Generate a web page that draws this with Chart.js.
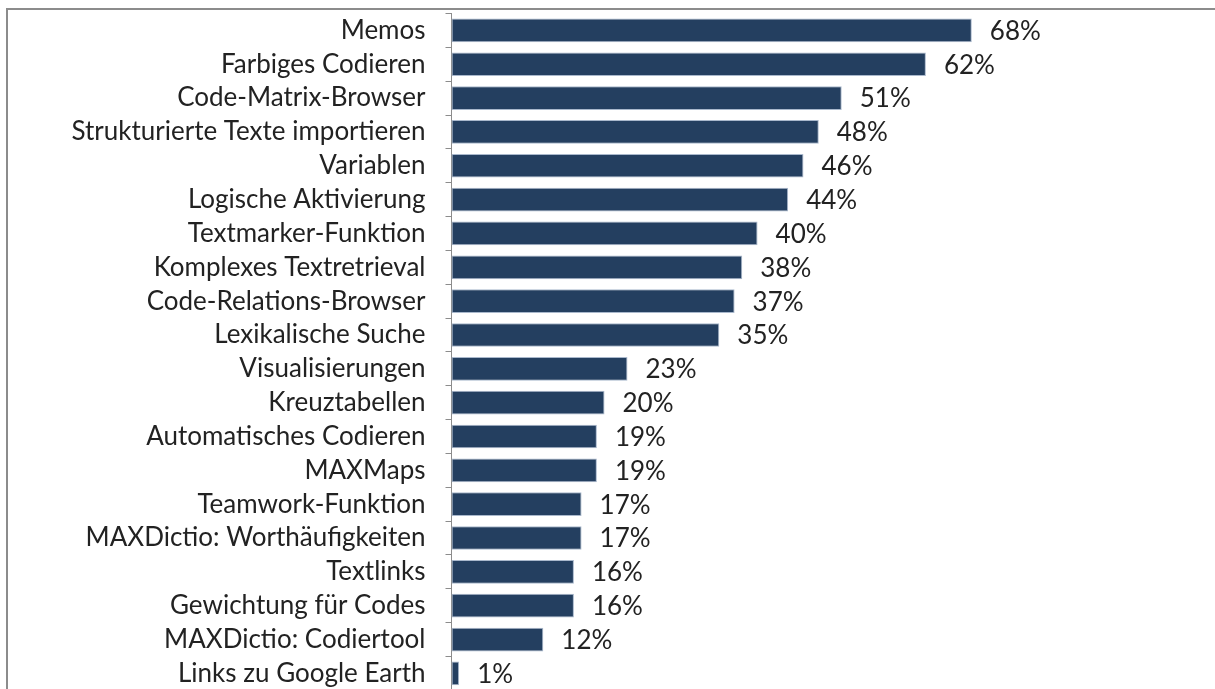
<!DOCTYPE html>
<html>
<head>
<meta charset="utf-8">
<script src="https://cdn.jsdelivr.net/npm/chart.js@4"></script>
<style>
  html, body { margin:0; padding:0; background:#fff; overflow:hidden; }
  #frame { position:absolute; left:6px; top:8px; width:1215px; height:700px; border-left:2px solid #8c8c8c; border-top:2px solid #8c8c8c; }
  #wrap { position:absolute; left:0; top:0; width:1215px; height:700px; }
</style>
</head>
<body>
<div id="frame"></div>
<div id="wrap"><canvas id="myChart"></canvas></div>
<script>
// Funktionen und Anteil der Nutzer (%)
const labels = ["Memos","Farbiges Codieren","Code-Matrix-Browser","Strukturierte Texte importieren","Variablen",
  "Logische Aktivierung","Textmarker-Funktion","Komplexes Textretrieval","Code-Relations-Browser","Lexikalische Suche",
  "Visualisierungen","Kreuztabellen","Automatisches Codieren","MAXMaps","Teamwork-Funktion",
  "MAXDictio: Worthäufigkeiten","Textlinks","Gewichtung für Codes","MAXDictio: Codiertool","Links zu Google Earth"];
const values = [68,62,51,48,46,44,40,38,37,35,23,20,19,19,17,17,16,16,12,1];

const fontName = "Lato, 'Open Sans', sans-serif";

// prozentwerte rechts neben die balken schreiben
const valueLabels = {
  id: 'valueLabels',
  afterDatasetsDraw(chart) {
    const ctx = chart.ctx;
    const meta = chart.getDatasetMeta(0);
    ctx.save();
    ctx.font = "26px " + fontName;
    ctx.fillStyle = "#222";
    ctx.textAlign = "left";
    ctx.textBaseline = "middle";
    meta.data.forEach((bar, i) => {
      ctx.fillText(values[i] + "%", bar.x + 18, bar.y + 1);
    });
    ctx.restore();
  }
};

const ctx = document.getElementById('myChart');
new Chart(ctx, {
  type: 'bar',
  data: {
    labels: labels,
    datasets: [{
      data: values,
      backgroundColor: "#243f60",
      borderColor: "#a9b8cc",
      borderWidth: 1,
      borderSkipped: false,
      categoryPercentage: 0.7,
      barPercentage: 1.0
    }]
  },
  options: {
    indexAxis: 'y',
    responsive: true,
    maintainAspectRatio: false,
    animation: false,
    layout: { padding: { top: 13.5, bottom: 9.7, left: 0, right: 6 } },
    plugins: { legend: { display: false }, tooltip: { enabled: false } },
    scales: {
      x: { display: false, min: 0, max: 99 },
      y: {
        afterFit: (scale) => {
          scale.width = 451.5;
          scale.paddingTop = 0;
          scale.paddingBottom = 0;
        },
        border: { display: true, color: "#8c8c8c", width: 1 },
        grid: { drawOnChartArea: false, drawTicks: true, tickLength: 6, color: "#8c8c8c", offset: true },
        ticks: { color: "#222", font: { family: fontName, size: 26 }, padding: 20, autoSkip: false }
      }
    }
  },
  plugins: [valueLabels]
});
</script>
</body>
</html>
